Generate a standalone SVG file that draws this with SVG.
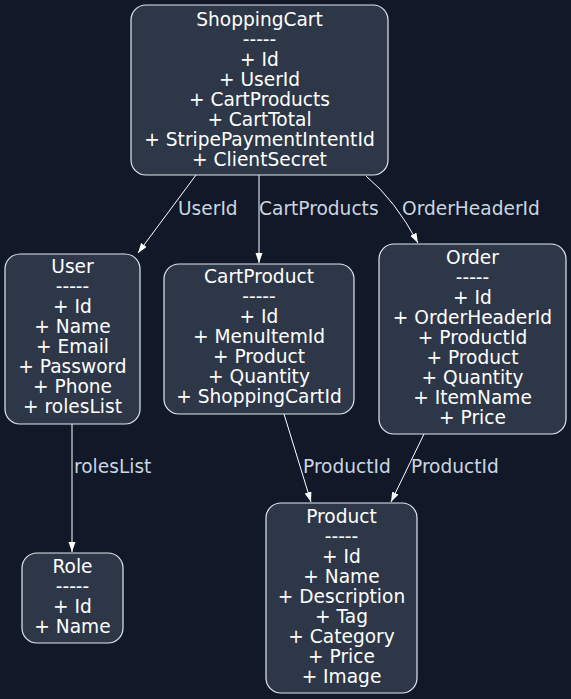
<svg xmlns="http://www.w3.org/2000/svg" width="571" height="699" viewBox="0 0 571 699">
<defs>
<style>
.node rect{fill:#2d3748;stroke:#e2e8f0;stroke-width:1.2}
.node text{fill:#ffffff;font-family:"DejaVu Sans",sans-serif;font-size:18.6px;text-anchor:middle}
.edge{fill:none;stroke:#ffffff;stroke-width:1}
.lbl{fill:#cbd5e0;font-family:"DejaVu Sans",sans-serif;font-size:18.6px}
</style>
<marker id="arr" markerUnits="userSpaceOnUse" markerWidth="11" markerHeight="8" refX="10" refY="3.5" orient="auto">
<path d="M0,0 L10,3.5 L0,7 z" fill="#ffffff"/>
</marker>
</defs>
<rect x="0" y="0" width="571" height="699" fill="#111827"/>
<g id="connectors">
<path class="edge" d="M196,175 L138,253" marker-end="url(#arr)"/>
<path class="edge" d="M259,175 L259,263" marker-end="url(#arr)"/>
<path class="edge" d="M366,176 Q395,200 418,243" marker-end="url(#arr)"/>
<path class="edge" d="M72,424 L72,552" marker-end="url(#arr)"/>
<path class="edge" d="M284,414 L311,502" marker-end="url(#arr)"/>
<path class="edge" d="M424,434 L391,502" marker-end="url(#arr)"/>
<text class="lbl" x="178" y="215">UserId</text>
<text class="lbl" x="259" y="215">CartProducts</text>
<text class="lbl" x="402" y="215">OrderHeaderId</text>
<text class="lbl" x="74" y="473">rolesList</text>
<text class="lbl" x="303" y="473">ProductId</text>
<text class="lbl" x="411" y="473">ProductId</text>
</g>
<g id="ShoppingCart" class="node">
<rect x="131" y="5" width="257" height="170" rx="15"/>
<text x="259.5" y="26">ShoppingCart</text>
<text x="259.5" y="46">-----</text>
<text x="259.5" y="66">+ Id</text>
<text x="259.5" y="86">+ UserId</text>
<text x="259.5" y="106">+ CartProducts</text>
<text x="259.5" y="126">+ CartTotal</text>
<text x="259.5" y="146">+ StripePaymentIntentId</text>
<text x="259.5" y="166">+ ClientSecret</text>
</g>
<g id="User" class="node">
<rect x="5" y="254" width="135" height="170" rx="15"/>
<text x="72.5" y="273">User</text>
<text x="72.5" y="293">-----</text>
<text x="72.5" y="313">+ Id</text>
<text x="72.5" y="333">+ Name</text>
<text x="72.5" y="353">+ Email</text>
<text x="72.5" y="373">+ Password</text>
<text x="72.5" y="393">+ Phone</text>
<text x="72.5" y="413">+ rolesList</text>
</g>
<g id="CartProduct" class="node">
<rect x="164" y="264" width="190" height="150" rx="15"/>
<text x="259" y="283">CartProduct</text>
<text x="259" y="303">-----</text>
<text x="259" y="323">+ Id</text>
<text x="259" y="343">+ MenuItemId</text>
<text x="259" y="363">+ Product</text>
<text x="259" y="383">+ Quantity</text>
<text x="259" y="403">+ ShoppingCartId</text>
</g>
<g id="Order" class="node">
<rect x="379" y="244" width="187" height="190" rx="15"/>
<text x="472.5" y="264">Order</text>
<text x="472.5" y="284">-----</text>
<text x="472.5" y="304">+ Id</text>
<text x="472.5" y="324">+ OrderHeaderId</text>
<text x="472.5" y="344">+ ProductId</text>
<text x="472.5" y="364">+ Product</text>
<text x="472.5" y="384">+ Quantity</text>
<text x="472.5" y="404">+ ItemName</text>
<text x="472.5" y="424">+ Price</text>
</g>
<g id="Role" class="node">
<rect x="22" y="553" width="101" height="90" rx="15"/>
<text x="72.5" y="573">Role</text>
<text x="72.5" y="593">-----</text>
<text x="72.5" y="613">+ Id</text>
<text x="72.5" y="633">+ Name</text>
</g>
<g id="Product" class="node">
<rect x="266" y="503" width="151" height="190" rx="15"/>
<text x="341.5" y="523">Product</text>
<text x="341.5" y="543">-----</text>
<text x="341.5" y="563">+ Id</text>
<text x="341.5" y="583">+ Name</text>
<text x="341.5" y="603">+ Description</text>
<text x="341.5" y="623">+ Tag</text>
<text x="341.5" y="643">+ Category</text>
<text x="341.5" y="663">+ Price</text>
<text x="341.5" y="683">+ Image</text>
</g>
</svg>
